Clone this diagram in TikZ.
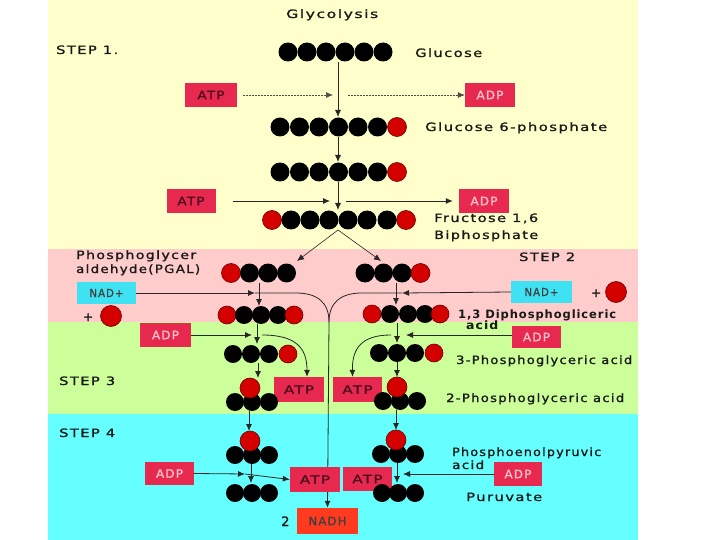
\documentclass[tikz,border=0pt]{standalone}
\usepackage{fontspec}
\usepackage{graphicx}
\setmainfont{DejaVu Sans}
\newfontfamily\lf[LetterSpace=10,FakeBold=1.2]{DejaVu Sans}
\newfontfamily\lfb[LetterSpace=8]{DejaVu Sans Bold}
\usetikzlibrary{arrows.meta}
\definecolor{ybg}{HTML}{FFFFCC}
\definecolor{pbg}{HTML}{FFCCCC}
\definecolor{gbg}{HTML}{CCFF99}
\definecolor{cbg}{HTML}{66FFFF}
\definecolor{boxred}{HTML}{E8294F}
\definecolor{nadhred}{HTML}{FF3A1F}
\definecolor{nadcyan}{HTML}{3EE2F2}
\definecolor{ballred}{HTML}{D40000}
\definecolor{ballrim}{HTML}{6A0000}
\definecolor{atptext}{HTML}{4A0F1E}
\definecolor{adptext}{HTML}{FFC4CC}
\newcommand\lbl[2]{\resizebox{#1pt}{\height}{#2}}
\pgfdeclarelayer{bglayer}
\pgfdeclarelayer{lnlayer}
\pgfsetlayers{bglayer,lnlayer,main}
\begin{document}
\begin{tikzpicture}[x=1pt,y=-1pt,
  arr/.style={draw=black!85, line width=0.8pt, -{Latex[length=7pt,width=6pt]}},
  darr/.style={draw=black!70, line width=0.6pt, dash pattern=on 2pt off 1pt, -{Latex[length=7pt,width=6pt]}},
  ln/.style={draw=black!85, line width=0.8pt},
  blk/.style={circle, fill=black, inner sep=0, minimum size=#1},
  blk/.default=18pt,
  rdb/.style={circle, fill=ballred, draw=ballrim, line width=0.6pt, inner sep=0, minimum size=#1},
  rdb/.default=18pt,
  lab/.style={anchor=base west, inner sep=0, text=black!90, font=\lf\fontsize{11.5}{13}\selectfont},
  blab/.style={lab, font=\lfb\fontsize{11.5}{13}\selectfont},
  ebox/.style={fill=boxred, inner sep=0, font=\lf\fontsize{11.5}{13}\selectfont},
  atpbox/.style={ebox, text=atptext},
  adpbox/.style={ebox, text=adptext},
  nadbox/.style={fill=nadcyan, inner sep=0, text=black!75, font=\lf\fontsize{11}{13}\selectfont},
  nadhbox/.style={fill=nadhred, inner sep=0, text=black!75, font=\lf\fontsize{11.5}{13}\selectfont}
]
\useasboundingbox (0,0) rectangle (720,540);
\begin{pgfonlayer}{bglayer}
  \fill[white] (0,0) rectangle (720,540);
  \fill[ybg] (48,0) rectangle (638,249);
  \fill[pbg] (48,249) rectangle (638,322);
  \fill[gbg] (48,322) rectangle (638,414);
  \fill[cbg] (48,414) rectangle (638,540);
\end{pgfonlayer}

% ---------- labels ----------
\node[lab] (title) at (286,18) {\lbl{92}{Glycolysis}};
\node[lab] (s1) at (56,54) {\lbl{62}{STEP 1.}};
\node[lab] (glu) at (415,57) {\lbl{67}{Glucose}};
\node[lab] (g6pl) at (425,131) {\lbl{182}{Glucose 6-phosphate}};
\node[lab] (fr1) at (434,222) {\lbl{104}{Fructose 1,6}};
\node[lab] (fr2) at (434,239) {\lbl{104}{Biphosphate}};
\node[lab] (pg1) at (76,259) {\lbl{120}{Phosphoglycer}};
\node[lab] (pg2) at (76,273) {\lbl{124}{aldehyde(PGAL)}};
\node[lab] (s2) at (519,261) {\lbl{56}{STEP 2}};
\node[blab] (dp1) at (458,318) {\lbl{158}{1,3 Diphosphogliceric}};
\node[blab] (dp2) at (466,329) {\lbl{32}{acid}};
\node[lab] (p3) at (456,364) {\lbl{176}{3-Phosphoglyceric acid}};
\node[lab] (s3) at (59,385) {\lbl{56}{STEP 3}};
\node[lab] (p2) at (446,402) {\lbl{178}{2-Phosphoglyceric acid}};
\node[lab] (s4) at (59,437) {\lbl{56}{STEP 4}};
\node[lab] (pep1) at (452,456) {\lbl{149}{Phosphoenolpyruvic}};
\node[lab] (pep2) at (452,469) {\lbl{32}{acid}};
\node[lab] (pyr) at (466,501) {\lbl{76}{Puruvate}};
\node[lab, font=\lf\fontsize{13}{15}\selectfont] (two) at (281,526) {2};
\node[lab, font=\lf\fontsize{12}{14}\selectfont] (plL) at (83,321) {+};
\node[lab, font=\lf\fontsize{12}{14}\selectfont] (plR) at (591,297) {+};
\node[rdb=19pt, minimum width=21pt] (dotL) at (111,316) {};
\node[rdb=19pt, minimum width=21pt] (dotR) at (616,292) {};

% ---------- boxes ----------
\node[atpbox, minimum width=52pt, minimum height=24pt] (atp1) at (211,95) {\lbl{27}{ATP}};
\node[adpbox, minimum width=50pt, minimum height=24pt] (adp1) at (490,95) {\lbl{27}{ADP}};
\node[atpbox, minimum width=49pt, minimum height=24pt] (atp2) at (191,201) {\lbl{27}{ATP}};
\node[adpbox, minimum width=50pt, minimum height=24pt] (adp2) at (484,201) {\lbl{27}{ADP}};
\node[nadbox, minimum width=59pt, minimum height=22pt] (nadL) at (106.5,293) {\lbl{34}{NAD+}};
\node[nadbox, minimum width=61pt, minimum height=22pt] (nadR) at (541.5,292) {\lbl{34}{NAD+}};
\node[adpbox, minimum width=51pt, minimum height=24pt] (adpG1) at (165.5,335) {\lbl{27}{ADP}};
\node[adpbox, minimum width=49pt, minimum height=22pt] (adpG2) at (536.5,337) {\lbl{27}{ADP}};
\node[atpbox, minimum width=50pt, minimum height=25pt] (atpG1) at (299,389.5) {\lbl{30}{ATP}};
\node[atpbox, minimum width=49pt, minimum height=25pt] (atpG2) at (357.5,389.5) {\lbl{30}{ATP}};
\node[adpbox, minimum width=49pt, minimum height=23pt] (adpC1) at (169.5,473.5) {\lbl{27}{ADP}};
\node[atpbox, minimum width=50pt, minimum height=25pt] (atpC1) at (315,479.5) {\lbl{30}{ATP}};
\node[atpbox, minimum width=49pt, minimum height=24pt] (atpC2) at (367.5,479) {\lbl{30}{ATP}};
\node[adpbox, minimum width=48pt, minimum height=24pt] (adpC2) at (518,474) {\lbl{27}{ADP}};
\node[nadhbox, minimum width=61pt, minimum height=26pt] (nadh) at (327.5,521) {\lbl{38}{NADH}};

% ---------- molecule chains ----------
\foreach \i/\x in {1/288,2/307,3/326,4/345,5/364,6/383}
  \node[blk=19pt] (gl\i) at (\x,52) {};
\foreach \i/\x in {1/280,2/299.5,3/319,4/338.5,5/358,6/377.5}
  \node[blk=19pt] (ga\i) at (\x,127) {};
\node[rdb=19pt] (ga7) at (397,127) {};
\foreach \i/\x in {1/280,2/299.5,3/319,4/338.5,5/358,6/377.5}
  \node[blk=19pt] (gb\i) at (\x,172) {};
\node[rdb=19pt] (gb7) at (397,172) {};
\node[rdb=19pt] (fb1) at (272,220) {};
\node[rdb=19pt] (fb8) at (406,220) {};
\foreach \i/\x in {2/291,3/310,4/329,5/348,6/367,7/387}
  \node[blk=19pt] (fb\i) at (\x,220) {};
% PGAL
\node[rdb=19pt] (pl1) at (231,273) {};
\foreach \i/\x in {2/249.5,3/268,4/286.5}
  \node[blk=19pt] (pl\i) at (\x,273) {};
\foreach \i/\x in {1/365,2/383.5,3/402}
  \node[blk=19pt] (pr\i) at (\x,273) {};
\node[rdb=19pt] (pr4) at (420.5,273) {};
% 1,3 DPG
\node[rdb] (dl1) at (227,315) {};
\foreach \i/\x in {2/244,3/261,4/278}
  \node[blk] (dl\i) at (\x,315) {};
\node[rdb] (dl5) at (294,315) {};
\node[rdb] (dr1) at (372,314) {};
\foreach \i/\x in {2/390,3/408,4/425}
  \node[blk] (dr\i) at (\x,314) {};
\node[rdb] (dr5) at (440,314) {};
% 3PG
\foreach \i/\x in {1/233,2/251,3/269}
  \node[blk] (tl\i) at (\x,354) {};
\node[rdb] (tl4) at (288,354) {};
\foreach \i/\x in {1/379,2/397,3/415}
  \node[blk] (tr\i) at (\x,353) {};
\node[rdb] (tr4) at (434,353) {};
% 2PG
\foreach \i/\x in {1/235,2/252,3/269}
  \node[blk] (ul\i) at (\x,402) {};
\node[rdb, minimum width=20pt] (ul0) at (250,388) {};
\foreach \i/\x in {1/383,2/400,3/417}
  \node[blk] (ur\i) at (\x,401) {};
\node[rdb, minimum width=20pt] (ur0) at (397,387) {};
% PEP
\foreach \i/\x in {1/235,2/252,3/269}
  \node[blk] (el\i) at (\x,455) {};
\node[rdb, minimum width=20pt] (el0) at (250,441) {};
\foreach \i/\x in {1/381,2/398,3/415}
  \node[blk] (er\i) at (\x,454) {};
\node[rdb, minimum width=20pt] (er0) at (396,440) {};
% pyruvate
\foreach \i/\x in {1/235,2/252,3/269}
  \node[blk] (yl\i) at (\x,493) {};
\foreach \i/\x in {1/382,2/398,3/415}
  \node[blk] (yr\i) at (\x,493) {};

% ---------- connector end points ----------
\coordinate (c1a) at (338,62);  \coordinate (c1b) at (338,117);
\coordinate (c2a) at (338,137); \coordinate (c2b) at (338,162);
\coordinate (c3a) at (338,182); \coordinate (c3b) at (338,210);
\coordinate (m1) at (333,95);   \coordinate (m1b) at (348,95);
\coordinate (m2) at (330,201);  \coordinate (m2b) at (346,201);
\coordinate (fs) at (338,230);
\coordinate (fl) at (297,261);  \coordinate (fr) at (381,261);
\coordinate (vl1a) at (259,283); \coordinate (vl1b) at (259,306);
\coordinate (vr1a) at (396,283); \coordinate (vr1b) at (396,305);
\coordinate (nl) at (255,293);  \coordinate (nr) at (402,293);
\coordinate (ncl) at (296,293); \coordinate (ncr) at (362,293);
\coordinate (jn) at (329,322);
\coordinate (vl2a) at (257,324); \coordinate (vl2b) at (257,344);
\coordinate (vr2a) at (397,323); \coordinate (vr2b) at (397,343);
\coordinate (al) at (252,335);  \coordinate (ar) at (406,335);
\coordinate (cl) at (262,335);  \coordinate (cr) at (391,335);
\coordinate (vl3a) at (258,363); \coordinate (vl3b) at (258,378);
\coordinate (vr3a) at (397,362); \coordinate (vr3b) at (397,377);
\coordinate (vl4a) at (249,411); \coordinate (vl4b) at (249,431);
\coordinate (vr4a) at (396,410); \coordinate (vr4b) at (396,430);
\coordinate (vl5a) at (251,464); \coordinate (vl5b) at (251,483);
\coordinate (vr5a) at (397,463); \coordinate (vr5b) at (397,483);
\coordinate (bl) at (245,474);  \coordinate (br) at (403,474);

% ---------- connectors ----------
\begin{pgfonlayer}{lnlayer}
  \draw[arr] (c1a) -- (c1b);
  \draw[darr] (atp1.east) ++(6,0) coordinate (d1) (d1) -- (m1);
  \draw[darr] (m1b) -- (adp1.west);
  \draw[arr] (c2a) -- (c2b);
  \draw[arr] (c3a) -- (c3b);
  \draw[arr] (atp2.east) ++(17,0) coordinate (d2) (d2) -- (m2);
  \draw[arr] (m2b) -- ([xshift=-6pt]adp2.west);
  \draw[arr, line width=0.6pt] (fs) -- (fl);
  \draw[arr, line width=0.6pt] (fs) -- (fr);
  % step 2
  \draw[arr] (vl1a) -- (vl1b);
  \draw[arr] (vr1a) -- (vr1b);
  \draw[arr] (nadL.east) -- (nl);
  \draw[arr] (nadR.west) -- (nr);
  \draw[ln] (nl) -- (ncl) .. controls (318,293) and (329,303) .. (jn);
  \draw[ln] (nr) -- (ncr) .. controls (340,293) and (329,303) .. (jn);
  \draw[arr] (jn) -- (nadh.north);
  % step 3
  \draw[arr] (vl2a) -- (vl2b);
  \draw[arr] (vr2a) -- (vr2b);
  \draw[arr] (adpG1.east) -- (al);
  \draw[arr] (adpG2.west |- ar) -- (ar);
  \draw[arr] (cl) .. controls (296,335) and (307,348) .. ([xshift=8pt]atpG1.north);
  \draw[arr] (cr) .. controls (362,335) and (352,348) .. ([xshift=-5pt]atpG2.north);
  \draw[arr] (vl3a) -- (vl3b);
  \draw[arr] (vr3a) -- (vr3b);
  % step 4
  \draw[arr] (vl4a) -- (vl4b);
  \draw[arr] (vr4a) -- (vr4b);
  \draw[arr] (vl5a) -- (vl5b);
  \draw[arr] (vr5a) -- (vr5b);
  \draw[arr] (adpC1.east) -- (bl);
  \draw[arr] (bl) -- (atpC1.west);
  \draw[arr] (adpC2.west) -- (br);
\end{pgfonlayer}
\end{tikzpicture}
\end{document}
